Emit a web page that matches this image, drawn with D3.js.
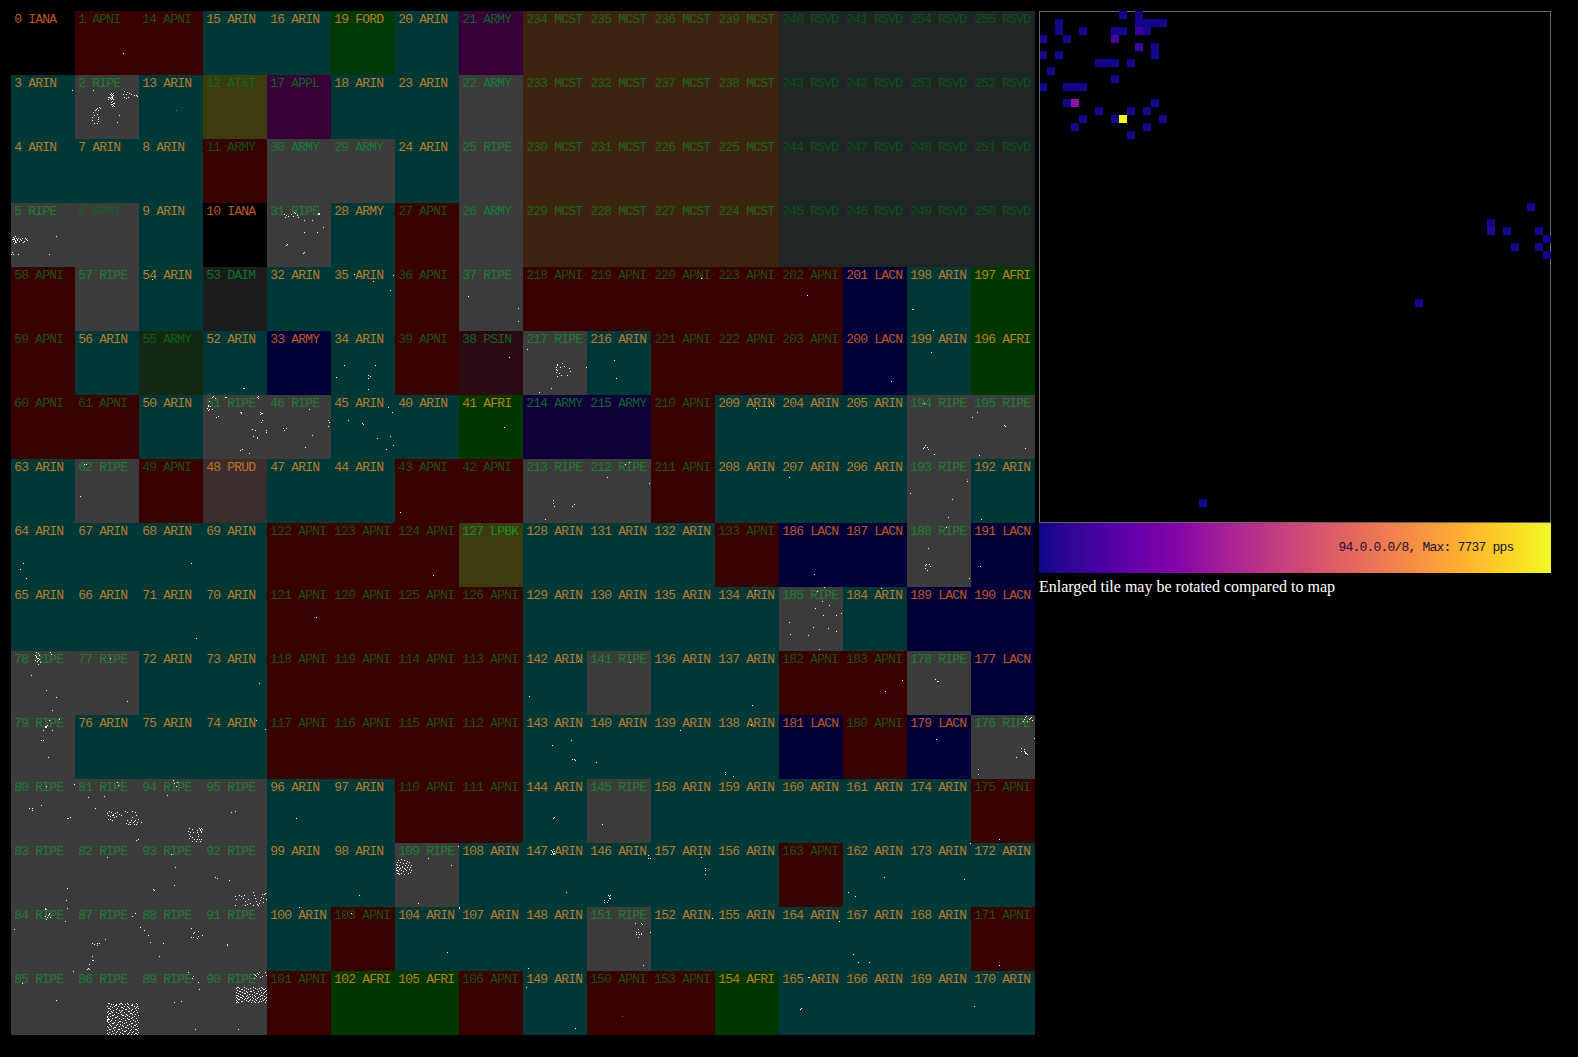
<!DOCTYPE html>
<html><head><meta charset="utf-8"><title>Traffic map</title>
<script src="https://cdn.jsdelivr.net/npm/d3@7"></script>
<style>html,body{margin:0;background:#000;overflow:hidden}svg{display:block}</style>
</head><body><div id="c"></div><script>
const blockRows=[
[0,1,14,15,16,19,20,21,234,235,236,239,240,241,254,255],
[3,2,13,12,17,18,23,22,233,232,237,238,243,242,253,252],
[4,7,8,11,30,29,24,25,230,231,226,225,244,247,248,251],
[5,6,9,10,31,28,27,26,229,228,227,224,245,246,249,250],
[58,57,54,53,32,35,36,37,218,219,220,223,202,201,198,197],
[59,56,55,52,33,34,39,38,217,216,221,222,203,200,199,196],
[60,61,50,51,46,45,40,41,214,215,210,209,204,205,194,195],
[63,62,49,48,47,44,43,42,213,212,211,208,207,206,193,192],
[64,67,68,69,122,123,124,127,128,131,132,133,186,187,188,191],
[65,66,71,70,121,120,125,126,129,130,135,134,185,184,189,190],
[78,77,72,73,118,119,114,113,142,141,136,137,182,183,178,177],
[79,76,75,74,117,116,115,112,143,140,139,138,181,180,179,176],
[80,81,94,95,96,97,110,111,144,145,158,159,160,161,174,175],
[83,82,93,92,99,98,109,108,147,146,157,156,163,162,173,172],
[84,87,88,91,100,103,104,107,148,151,152,155,164,167,168,171],
[85,86,89,90,101,102,105,106,149,150,153,154,165,166,169,170]];
const ownerRows=[
"IANA APNI APNI ARIN ARIN FORD ARIN ARMY MCST MCST MCST MCST RSVD RSVD RSVD RSVD",
"ARIN RIPE ARIN AT&T APPL ARIN ARIN ARMY MCST MCST MCST MCST RSVD RSVD RSVD RSVD",
"ARIN ARIN ARIN ARMY ARMY ARMY ARIN RIPE MCST MCST MCST MCST RSVD RSVD RSVD RSVD",
"RIPE ARMY ARIN IANA RIPE ARMY APNI ARMY MCST MCST MCST MCST RSVD RSVD RSVD RSVD",
"APNI RIPE ARIN DAIM ARIN ARIN APNI RIPE APNI APNI APNI APNI APNI LACN ARIN AFRI",
"APNI ARIN ARMY ARIN ARMY ARIN APNI PSIN RIPE ARIN APNI APNI APNI LACN ARIN AFRI",
"APNI APNI ARIN RIPE RIPE ARIN ARIN AFRI ARMY ARMY APNI ARIN ARIN ARIN RIPE RIPE",
"ARIN RIPE APNI PRUD ARIN ARIN APNI APNI RIPE RIPE APNI ARIN ARIN ARIN RIPE ARIN",
"ARIN ARIN ARIN ARIN APNI APNI APNI LPBK ARIN ARIN ARIN APNI LACN LACN RIPE LACN",
"ARIN ARIN ARIN ARIN APNI APNI APNI APNI ARIN ARIN ARIN ARIN RIPE ARIN LACN LACN",
"RIPE RIPE ARIN ARIN APNI APNI APNI APNI ARIN RIPE ARIN ARIN APNI APNI RIPE LACN",
"RIPE ARIN ARIN ARIN APNI APNI APNI APNI ARIN ARIN ARIN ARIN LACN APNI LACN RIPE",
"RIPE RIPE RIPE RIPE ARIN ARIN APNI APNI ARIN RIPE ARIN ARIN ARIN ARIN ARIN APNI",
"RIPE RIPE RIPE RIPE ARIN ARIN RIPE ARIN ARIN ARIN ARIN ARIN APNI ARIN ARIN ARIN",
"RIPE RIPE RIPE RIPE ARIN APNI ARIN ARIN ARIN RIPE ARIN ARIN ARIN ARIN ARIN APNI",
"RIPE RIPE RIPE RIPE APNI AFRI AFRI APNI ARIN APNI APNI AFRI ARIN ARIN ARIN ARIN"];
const armyGroups=[[11,"red"],[6,"greyDim"],[30,"grey"],[29,"grey"],[22,"grey"],[26,"grey"],[28,"teal"],[21,"plum"],[33,"navy"],[55,"moss"],[214,"indigo"],[215,"indigo"]];
const sparseHits=[
[1,48,42],[3,61,15],[2,44,40],[2,42,47],[2,18,15],
[2,36,18],[2,38,18],[2,35,19],[2,37,19],[2,36,20],[2,38,20],[2,33,22],[2,36,22],[2,37,22],[2,35,23],[2,33,24],[2,36,24],[2,38,24],[2,37,26],[2,36,27],[2,38,28],[2,36,29],[2,38,30],[2,37,31],[2,39,31],[2,34,22],[2,37,21],[2,37,23],[2,39,28],[2,37,29],
[2,49,16],[2,52,17],[2,48,19],[2,51,19],[2,54,18],[2,56,19],[2,59,20],[2,61,20],[2,49,22],[2,51,23],[2,53,22],[2,62,21],
[2,22,33],[2,24,32],[2,20,35],[2,23,35],[2,18,37],[2,21,34],[2,19,40],[2,22,39],[2,17,42],[2,23,42],[2,17,45],[2,23,44],[2,19,48],[2,22,48],[2,23,46],[2,25,33],
[5,2,34],[5,4,33],[5,1,36],[5,3,36],[5,5,35],[5,7,35],[5,9,36],[5,11,35],[5,14,35],[5,2,38],[5,4,38],[5,6,37],[5,8,38],[5,10,37],[5,13,38],[5,15,36],[5,3,40],[5,5,39],[5,12,39],[5,16,37],[5,45,33],[5,38,51],[5,7,51],[5,1,49],[5,2,51],[5,0,51],[5,3,35],[5,4,37],[5,2,36],[5,6,36],[5,4,39],
[31,17,11],[31,19,12],[31,21,13],[31,24,11],[31,26,13],[31,28,10],[31,30,12],[31,27,9],[31,31,14],[31,18,14],[31,51,10],[31,52,11],[31,51,11],[31,52,10],[31,37,17],[31,45,17],[31,56,24],[31,37,29],[31,50,29],[31,20,41],[31,19,42],[31,37,49],[31,36,50],
[217,34,33],[217,39,32],[217,41,35],[217,33,36],[217,37,36],[217,46,37],[217,34,39],[217,33,41],[217,47,40],[217,36,42],[217,38,44],[217,44,44],[217,34,45],[217,4,18],[217,63,36],[217,28,57],[217,16,61],[217,34,34],[217,33,38],
[216,27,29],[216,29,47],[38,50,26],[37,59,41],[37,59,54],[37,9,29],[220,50,11],[202,28,28],[198,5,42],[198,6,42],[198,26,63],[199,24,21],[200,48,50],[41,45,32],
[209,41,13],[209,54,11],[209,56,8],[194,17,8],[194,17,52],[194,18,50],[194,20,52],[194,21,54],[194,16,53],[194,27,59],
[195,6,17],[195,1,22],[195,33,30],[195,34,31],[195,54,53],[195,8,60],[212,42,3],[212,38,5],[212,20,18],[212,62,24],
[213,30,41],[213,30,44],[213,31,47],[213,51,45],[213,49,47],[213,22,60],[193,60,22],[193,3,34],[193,45,40],[193,41,58],[192,10,60],[207,10,18],
[54,13,12],[35,23,7],[35,42,14],[35,62,8],[35,59,23],[34,13,34],[34,5,46],[34,44,34],[34,37,44],[34,39,45],[34,37,47],[34,37,58],[52,41,57],[52,40,57],
[51,10,1],[51,9,2],[51,12,3],[51,6,6],[51,5,10],[51,4,13],[51,7,11],[51,9,14],[51,5,15],[51,22,2],[51,23,2],[51,54,2],[51,55,1],[51,55,3],[51,13,22],[51,15,21],[51,37,17],[51,38,18],[51,57,17],[51,59,18],[51,57,19],[51,59,25],[51,58,27],[51,49,34],[51,52,35],[51,63,35],[51,63,37],[51,50,41],[51,54,42],[51,54,43],[51,37,55],[51,39,54],[51,46,58],[51,5,11],[51,6,14],[51,38,17],[51,58,18],
[46,16,33],[46,19,33],[46,17,35],[46,42,14],[46,61,25],[46,62,27],[46,61,31],[46,45,40],[46,38,52],
[45,17,25],[45,31,28],[45,32,29],[45,57,12],[45,61,17],[45,59,41],[45,46,43],[45,55,54],[45,62,50],
[62,5,37],[62,9,5],[62,11,5],[43,5,53],[64,12,40],[64,9,46],[64,15,55],[68,52,40],[124,38,52],[121,49,30],[71,57,51],
[78,25,1],[78,27,2],[78,24,4],[78,28,4],[78,25,6],[78,27,7],[78,24,9],[78,28,8],[78,26,10],[78,29,11],[78,27,13],[78,39,1],[78,40,3],[78,20,24],[78,35,39],[78,45,46],[78,41,59],[78,25,5],[78,26,7],[78,27,9],
[77,52,50],[77,35,7],[73,56,32],[79,34,11],[79,35,12],[79,36,10],[79,32,15],[79,41,15],[79,38,5],[79,48,4],[79,30,25],[79,32,25],[79,37,42],[74,53,5],[74,62,14],[79,34,12],[79,35,11],
[186,35,51],[185,38,4],[185,45,0],[188,39,4],[188,21,25],[188,18,42],[188,19,41],[188,22,41],[188,23,43],[188,18,45],[188,20,47],[188,62,55],[191,9,43],
[185,43,14],[185,50,18],[185,36,21],[185,44,28],[185,57,28],[185,62,26],[185,10,35],[185,34,40],[185,49,41],[185,57,44],[185,11,47],[185,29,48],[185,40,62],
[184,38,1],[134,40,3],[142,6,45],[142,55,10],[141,43,11],[137,37,54],[183,59,29],[183,42,40],[178,28,28],[178,30,30],[178,31,30],
[143,29,30],[143,48,25],[143,49,44],[143,51,44],[143,52,45],[140,9,47],[139,29,15],[138,10,57],[138,10,59],[138,18,61],[138,36,10],[179,29,24],
[176,52,6],[176,54,2],[176,56,6],[176,60,2],[176,61,5],[176,58,4],[176,55,1],[176,53,4],[176,50,33],[176,50,36],[176,53,34],[176,54,38],[176,56,39],[176,53,36],[176,45,42],[176,63,23],[176,7,54],[176,7,59],[176,54,37],[176,55,38],[176,59,3],
[144,31,38],[144,30,39],[145,15,45],[175,28,60],[173,63,0],
[147,28,7],[147,30,6],[147,31,8],[147,29,9],[147,31,10],[147,28,11],[147,30,11],[147,43,49],[147,29,8],[147,30,10],
[146,61,12],[146,63,15],[146,61,15],[146,21,52],[146,23,52],[146,22,55],[146,21,57],[146,17,57],[146,17,59],[146,20,59],[146,23,55],[146,22,53],
[157,50,14],[157,54,25],[157,54,27],[157,54,31],[162,41,34],[162,5,49],[162,12,53],[173,57,36],[148,5,61],
[151,48,16],[151,54,16],[151,55,17],[151,51,22],[151,49,25],[151,51,25],[151,54,26],[151,49,27],[151,52,27],[151,54,27],[151,51,30],[151,56,58],[151,63,25],
[152,61,11],[164,60,14],[167,10,47],[167,15,55],[167,26,55],[171,28,58],[149,3,16],[149,55,3],[149,52,57],[165,29,6],[165,30,6],[165,22,37],[165,21,38],[170,3,35],
[96,29,39],[98,28,52],[100,32,0],[103,20,6],[109,33,15],[109,56,22],[109,63,3],[109,23,60],[107,0,0],[107,0,1],[104,52,45],
[109,3,17],[109,6,16],[109,9,17],[109,12,18],[109,2,19],[109,5,19],[109,8,20],[109,11,20],[109,14,19],[109,1,21],[109,4,22],[109,7,23],[109,10,22],[109,13,22],[109,16,22],[109,2,24],[109,5,25],[109,9,25],[109,12,24],[109,15,24],[109,1,27],[109,3,28],[109,6,27],[109,8,28],[109,11,27],[109,14,26],[109,16,27],[109,3,30],[109,6,30],[109,9,31],[109,13,30],[109,15,29],[109,4,31],[109,2,22],[109,3,24],[109,1,25],[109,2,27],[109,4,26],[109,7,24],[109,10,26],[109,2,30],
[80,21,29],[80,18,29],[80,21,31],[80,30,26],[80,35,7],[80,57,39],[80,59,38],[80,56,39],[80,63,5],
[81,13,18],[81,29,17],[81,20,29],[81,42,3],[81,43,6],[81,32,34],[81,34,32],[81,36,33],[81,38,35],[81,40,34],[81,42,33],[81,35,37],[81,37,36],[81,39,38],[81,41,37],[81,44,35],[81,46,36],[81,33,40],[81,35,40],[81,37,41],[81,50,32],[81,52,33],[81,57,32],[81,60,33],[81,61,36],[81,52,41],[81,54,43],[81,56,41],[81,58,43],[81,60,41],[81,62,43],[81,51,44],[81,53,45],[81,55,45],[81,59,45],[81,61,45],[81,63,40],[81,57,38],[81,61,61],[81,63,60],[81,33,36],[81,38,36],[81,55,43],[81,59,42],
[94,2,43],[94,34,1],[94,38,3],[94,35,4],[94,37,7],[94,28,16],[94,50,49],[94,53,50],[94,49,52],[94,51,53],[94,50,55],[94,60,49],[94,62,49],[94,58,51],[94,61,51],[94,63,50],[94,54,53],[94,58,53],[94,62,53],[94,59,55],[94,51,57],[94,50,59],[94,53,58],[94,55,60],[94,58,60],[94,60,60],[94,62,60],[94,53,62],[94,57,62],[94,61,62],[94,59,57],[94,61,50],[94,62,52],
[95,28,33],[95,32,32],[93,32,11],[93,36,24],[93,35,42],[82,32,14],[83,56,45],[83,55,57],[93,14,46],[93,15,47],[92,12,34],[92,14,35],[92,26,37],
[92,32,53],[92,33,56],[92,32,62],[92,36,52],[92,38,53],[92,41,52],[92,40,55],[92,42,58],[92,44,61],[92,47,60],[92,42,62],[92,50,49],[92,51,52],[92,52,55],[92,53,58],[92,54,61],[92,50,62],[92,56,60],[92,57,57],[92,58,54],[92,59,51],[92,61,51],[92,62,50],[92,60,55],[92,60,59],[92,63,56],[92,55,62],[92,45,56],
[84,34,1],[84,35,2],[84,38,6],[84,37,8],[84,34,9],[84,36,10],[84,39,10],[84,35,12],[84,54,14],[84,3,22],[84,56,1],[84,34,2],[84,38,7],
[87,60,6],[87,57,9],[87,30,32],[87,17,36],[87,19,37],[87,22,36],[87,22,38],[87,24,36],[87,17,49],[87,17,53],[87,18,53],[87,14,57],[87,13,61],[87,14,62],[87,12,62],
[88,1,20],[88,5,23],[88,9,28],[88,11,35],[88,24,36],[88,20,49],[88,52,21],[88,55,25],[88,59,24],[88,63,28],[88,52,30],[88,54,30],[88,58,31],[88,59,29],[88,54,26],[91,24,37],[91,24,38],
[85,62,0],[85,45,29],[85,11,12],[89,49,1],[89,54,5],[89,53,7],[89,59,11],[89,60,18],[89,35,31],[89,42,30],[89,56,58],[90,35,58],
[90,51,3],[90,53,5],[90,51,7],[90,54,2],[90,56,1],[90,57,6],[90,59,5],[90,62,1],[90,63,4],[90,52,4],[90,55,3]];
const denseRows=[
[86,32,[33,34,45,46,52,61]],[86,33,[36,38,41,44,47,50,53,57,62]],[86,34,[40,41,56,57]],[86,35,[32,35,39,43,49,52,59,62]],[86,36,[37,46,47,53,61]],[86,37,[33,34,42,48,54,60,63]],[86,38,[35,41,50,51,57]],[86,39,[38,44,47,56,61]],
[86,40,[33,36,46,53,54,59]],[86,41,[32,37,41,45,49,58,62]],[86,42,[34,35,43,55,56]],[86,43,[33,39,46,51,57,60]],[86,44,[37,38,47,48,52,63]],[86,45,[32,35,42,50,54,59]],[86,46,[32,40,41,57]],[86,47,[33,37,44,48,52,56,61]],
[86,48,[32,33,34,46,53,54]],[86,49,[32,36,40,50,58,62]],[86,50,[32,35,44,45,55,60]],[86,51,[33,39,43,47,51,63]],[86,52,[37,38,49,56,57]],[86,53,[34,42,45,54,61]],[86,54,[35,41,47,52,59,60]],[86,55,[32,36,44,48,56,62]],
[86,56,[33,39,40,50,51,58]],[86,57,[38,46,53,63]],[86,58,[34,35,43,44,56,60,61]],[86,59,[32,39,47,51,55,62]],[86,60,[37,42,49,50,58]],[86,61,[34,41,45,54,57,63]],[86,62,[32,38,47,53,60,61]],[86,63,[33,36,40,44,48,52,56,59,62]],
[90,16,[34,35,41,50,58]],[90,17,[33,36,43,47,52,56,59,62]],[90,18,[38,39,45,54,60,61]],[90,19,[34,41,50,57,63]],[90,20,[36,37,43,47,48,55,62]],[90,21,[33,39,44,51,58,61]],[90,22,[35,41,42,53,54,60]],[90,23,[37,46,49,56,63]],
[90,24,[33,34,39,44,51,58,59]],[90,25,[35,40,43,47,52,57,61]],[90,26,[33,37,38,45,49,55,63]],[90,27,[34,39,42,44,50,54,59,62]],[90,28,[35,36,41,47,52,57,61]],[90,29,[33,43,46,49,53,60,63]],[90,30,[34,38,39,45,51,56,58]],[90,31,[33,35,48,52,55,62]]];
const hotHits=[[13,37,35],[2,39,27],[81,47,1],[86,50,42],[90,51,31],[150,35,45],[193,60,20]];
const tileCells=[[10,0,90],[12,0,90],[2,1,90],[12,1,90],[13,1,90],[14,1,90],[15,1,90],[2,2,90],[5,2,90],[9,2,90],[10,2,90],[12,2,650],[13,2,130],
[0,3,250],[3,3,90],[9,3,900],[12,4,700],[14,4,90],[0,5,150],[2,5,90],[14,5,90],[7,6,90],[8,6,90],[9,6,90],[11,6,90],[1,7,90],[9,8,90],
[0,9,90],[3,9,90],[4,9,90],[5,9,90],[3,11,90],[4,11,2300],[14,11,90],[7,12,90],[11,12,90],[13,12,90],[5,13,90],[9,13,90],[10,13,7737],[15,13,130],
[4,14,90],[13,14,90],[11,15,90],[61,24,90],[56,26,90],[56,27,350],[58,27,90],[62,27,90],[63,28,90],[59,29,90],[62,29,90],[63,30,90],[47,36,90],[20,61,90]];
const captionText="Enlarged tile may be rotated compared to map";
const tileLabel="94.0.0.0/8, Max: 7737 pps";

const palette={ARIN:["#003838","#b87e28"],APNI:["#380000","#185410"],RIPE:["#3c3c3c","#1a8030"],LACN:["#000038","#c4541f"],AFRI:["#003800","#b88010"],
MCST:["#3c2410","#1b661d"],RSVD:["#202626","#0c5419"],IANA:["#000000","#c05418"],"AT&T":["#3c3c10","#0e7016"],APPL:["#380038","#0e662c"],FORD:["#003808","#b87e1a"],
DAIM:["#1c1c1c","#0a7430"],PSIN:["#2c0a14","#0e6620"],PRUD:["#3c2e2c","#c07024"],LPBK:["#3c3c10","#1a9024"],
red:["#380000","#0c5410"],greyDim:["#3c3c3c","#186024"],grey:["#3c3c3c","#167c2c"],teal:["#003838","#b87e28"],plum:["#380038","#0e662c"],navy:["#000038","#c4541f"],moss:["#142814","#0a6218"],indigo:["#100038","#0e6636"]};
const armyStyle=new Map(armyGroups);
const flat=[];blockRows.forEach((row,r)=>{const o=ownerRows[r].split(" ");row.forEach((b,c)=>flat.push({b,c,r,owner:o[c]}));});
const byBlock=new Map(flat.map(d=>[d.b,d]));
const W=1578,H=1057;
const svg=d3.select("#c").append("svg").attr("width",W).attr("height",H).style("background","#000");
const gx=d3.scaleBand().domain(d3.range(16)).range([11,1035]);
const gy=d3.scaleBand().domain(d3.range(16)).range([11,1035]);
const local=d3.scaleLinear().domain([0,64]).range([0,gx.bandwidth()]);
const styleOf=d=>palette[d.owner==="ARMY"?armyStyle.get(d.b):d.owner];
svg.append("g").attr("shape-rendering","crispEdges").selectAll("rect").data(flat).join("rect")
 .attr("x",d=>gx(d.c)).attr("y",d=>gy(d.r)).attr("width",gx.bandwidth()).attr("height",gy.bandwidth()).attr("fill",d=>styleOf(d)[0]);
const labelFont='"Liberation Mono",monospace';
svg.append("g").selectAll("text").data(flat).join("text")
 .attr("x",d=>gx(d.c)+3.2).attr("y",d=>gy(d.r)+12)
 .attr("font-family",labelFont).attr("font-size",13).attr("letter-spacing",-0.8)
 .attr("fill",d=>styleOf(d)[1]).style("white-space","pre")
 .text(d=>`${d.b} ${d.owner}`);
const hits=[...sparseHits];denseRows.forEach(([b,v,us])=>us.forEach(u=>hits.push([b,u,v])));
const place=(sel,fill)=>sel.attr("x",d=>{const k=byBlock.get(d[0]);return gx(k.c)+local(d[1]);}).attr("y",d=>{const k=byBlock.get(d[0]);return gy(k.r)+local(d[2]);}).attr("width",1).attr("height",1).attr("fill",fill);
const hg=svg.append("g").attr("shape-rendering","crispEdges");
place(hg.selectAll("rect.h").data(hits).join("rect").attr("class","h"),"#fff");
place(hg.selectAll("rect.r").data(hotHits).join("rect").attr("class","r"),"#e8403a");

const tx=d3.scaleBand().domain(d3.range(64)).range([1039,1551]);
const ty=d3.scaleBand().domain(d3.range(64)).range([11,523]);
const colour=d3.scaleSequential(d3.interpolatePlasma).domain([0,7737]);
const tg=svg.append("g").attr("shape-rendering","crispEdges");
tg.append("rect").attr("x",tx.range()[0]+.5).attr("y",ty.range()[0]+.5).attr("width",511).attr("height",511).attr("fill","#000").attr("stroke","#666");
tg.selectAll("rect.t").data(tileCells).join("rect").attr("class","t").attr("x",d=>tx(d[0])+(d[0]?0:1)).attr("y",d=>ty(d[1])).attr("width",d=>tx.bandwidth()-(d[0]?0:1)).attr("height",ty.bandwidth()).attr("fill",d=>colour(d[2]));
const bar=d3.scaleBand().domain(d3.range(256)).range([1039,1551]);
svg.append("g").attr("shape-rendering","crispEdges").selectAll("rect").data(d3.range(256)).join("rect")
 .attr("x",d=>bar(d)).attr("y",523).attr("width",bar.bandwidth()).attr("height",50).attr("fill",d=>d3.interpolatePlasma(d/255));
svg.append("text").attr("x",1338.5).attr("y",551).attr("font-family",labelFont).attr("font-size",13).attr("letter-spacing",-0.8).attr("fill","#1a1230").text(tileLabel);
svg.append("text").attr("x",1039).attr("y",592).attr("font-family",'"Liberation Serif",serif').attr("font-size",16).attr("fill","#fff").text(captionText);
</script></body></html>
